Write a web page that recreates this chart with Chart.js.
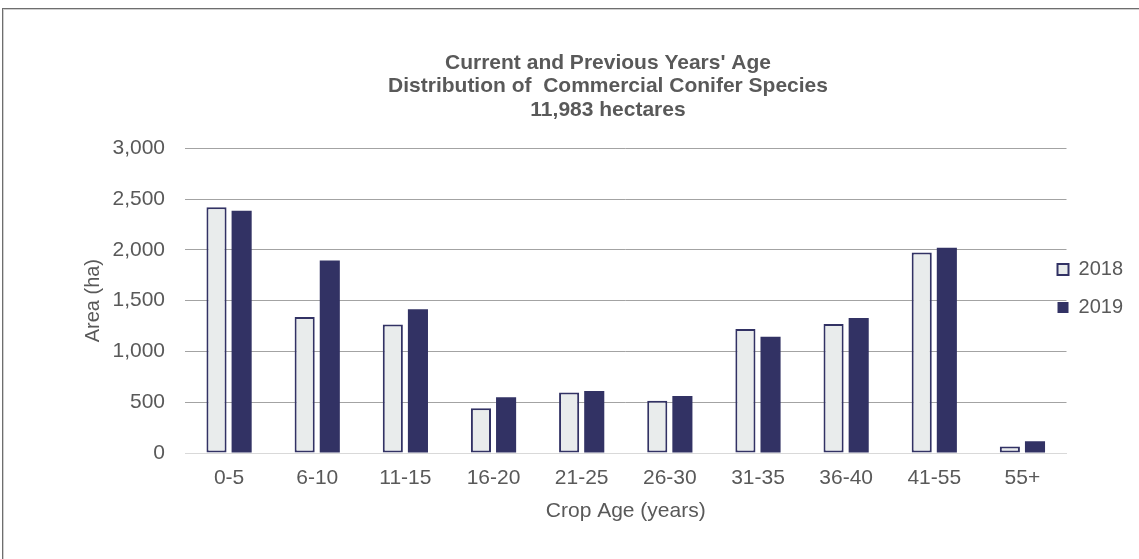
<!DOCTYPE html>
<html lang="en">
<head>
  <meta charset="UTF-8" />
  <title>Commercial Conifer Age Distribution</title>
  <script src="https://cdn.jsdelivr.net/npm/chart.js"></script>
  <style>
    html, body {
      margin: 0;
      padding: 0;
      background: #ffffff;
      overflow: hidden;
    }
    .frame {
      position: absolute;
      left: 2px;
      top: 8px;
      width: 1300px;
      height: 700px;
      border-top: 1px solid #6e6e6e;
      border-left: 1px solid #6e6e6e;
      box-shadow: inset 1px 1px 0 #cfcfcf;
      pointer-events: none;
    }
    .wrap {
      position: absolute;
      left: 0;
      top: 0;
      width: 1139px;
      height: 559px;
    }
  </style>
</head>
<body>
  <div class="wrap"><canvas id="ageChart"></canvas></div>
  <div class="frame"></div>

  <script>
    const ageClasses = ['0-5', '6-10', '11-15', '16-20', '21-25', '26-30', '31-35', '36-40', '41-55', '55+'];
    const area2018 = [2420, 1340, 1265, 440, 595, 515, 1220, 1270, 1975, 65];
    const area2019 = [2385, 1895, 1415, 550, 610, 560, 1145, 1330, 2020, 115];
    const yTicks = [0, 500, 1000, 1500, 2000, 2500, 3000];

    const navy = '#323264';
    const pale = '#e9ecec';
    const textGrey = '#595959';
    const fontFamily = "'Liberation Sans', Arial, sans-serif";

    // the original legend overlaps the end of the gridlines a bit:
    // claim less room for it in the layout, then nudge it left/down
    const legendShift = {
      id: 'legendShift',
      beforeLayout(chart) {
        const lg = chart.legend;
        if (!lg || lg._narrowed) return;
        const fit = lg.fit.bind(lg);
        lg.fit = function () {
          fit();
          this.width -= 21;
        };
        lg._narrowed = true;
      },
      afterLayout(chart) {
        const lg = chart.legend;
        if (!lg) return;
        lg.left -= 27;      // only move the start, keep the right edge so text isn't cut
        lg.right += 10;
        lg.top += 4;
        lg.bottom += 4;
      }
    };

    new Chart(document.getElementById('ageChart'), {
      type: 'bar',
      data: {
        labels: ageClasses,
        datasets: [
          {
            label: '2018',
            data: area2018,
            backgroundColor: pale,
            borderColor: navy,
            borderWidth: 2,
            borderSkipped: false,
            categoryPercentage: 0.57,
            barPercentage: 0.8
          },
          {
            label: '2019',
            data: area2019,
            backgroundColor: navy,
            borderColor: navy,
            borderWidth: 0,
            borderSkipped: false,
            categoryPercentage: 0.57,
            barPercentage: 0.8
          }
        ]
      },
      options: {
        responsive: true,
        maintainAspectRatio: false,
        animation: false,
        layout: {
          padding: { left: 77, right: 0, top: 10, bottom: 0 }
        },
        plugins: {
          title: {
            display: true,
            text: ["Current and Previous Years' Age", 'Distribution of  Commercial Conifer Species', '11,983 hectares'],
            color: textGrey,
            font: { family: fontFamily, size: 21, weight: 'bold', lineHeight: 1.1 },
            padding: { top: 42, bottom: 27 }
          },
          legend: {
            position: 'right',
            labels: {
              color: textGrey,
              font: { family: fontFamily, size: 20 },
              boxWidth: 11,
              boxHeight: 11,
              padding: 18
            }
          },
          tooltip: { enabled: false }
        },
        scales: {
          x: {
            afterFit: s => { s.height = 106; },
            grid: { display: false, drawTicks: false },
            border: { color: '#d9d9d9', width: 1 },
            ticks: {
              color: textGrey,
              font: { family: fontFamily, size: 21 },
              padding: 13,
              maxRotation: 0
            },
            title: {
              display: true,
              text: 'Crop Age (years)',
              color: textGrey,
              font: { family: fontFamily, size: 21 },
              padding: { top: 10, bottom: 35 }
            }
          },
          y: {
            min: 0,
            max: 3000,
            afterBuildTicks: s => { s.ticks = yTicks.map(v => ({ value: v })); },
            afterFit: s => { s.width = 108; },
            grid: { color: '#a3a3a3', lineWidth: 1, drawTicks: false },
            border: { display: false },
            ticks: {
              color: textGrey,
              font: { family: fontFamily, size: 21 },
              padding: 20
            },
            title: {
              display: true,
              text: 'Area (ha)',
              color: textGrey,
              font: { family: fontFamily, size: 20 },
              padding: { top: 4, bottom: 4 }
            }
          }
        }
      },
      plugins: [legendShift]
    });
  </script>
</body>
</html>
